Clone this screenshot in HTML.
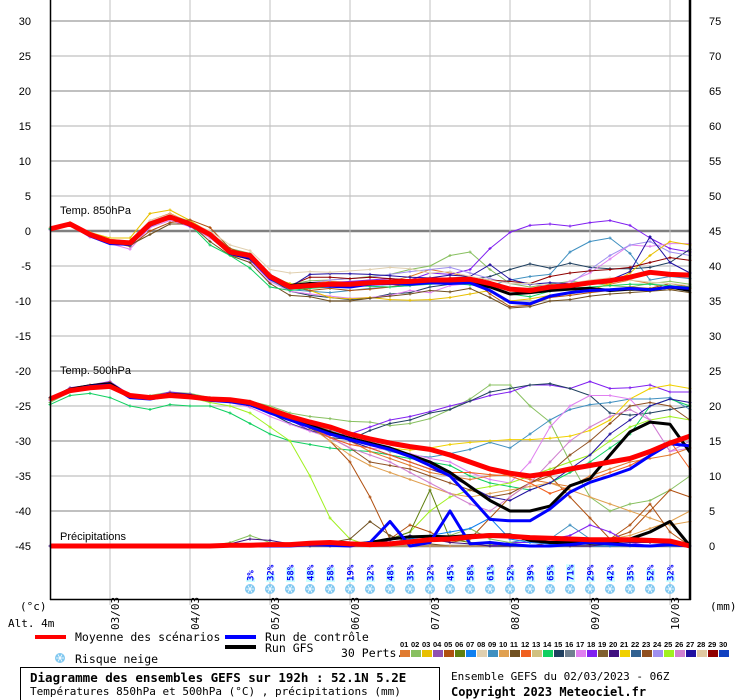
<!DOCTYPE html>
<html><head><meta charset="utf-8"><style>
body{margin:0;background:#fff;width:740px;height:700px;overflow:hidden;font-family:"DejaVu Sans Mono","Liberation Mono",monospace;}
svg{display:block}
</style></head><body>
<svg id="chart" width="740" height="700" viewBox="0 0 740 700" xmlns="http://www.w3.org/2000/svg">
<g id="grid"></g>
<g id="series"></g>
<g id="axes"></g>
<g id="snow"></g>
<g id="legend">
  <line x1="35" y1="637" x2="66" y2="637" stroke="#ff0000" stroke-width="4"/>
  <text x="75" y="641" font-size="11.5">Moyenne des scénarios</text>
  <line x1="225" y1="637" x2="256" y2="637" stroke="#0000ff" stroke-width="4"/>
  <text x="265" y="641" font-size="11.5">Run de contrôle</text>
  <line x1="225" y1="647" x2="256" y2="647" stroke="#000" stroke-width="4"/>
  <text x="265" y="652" font-size="11.5">Run GFS</text>
  <text x="75" y="663" font-size="11.5">Risque neige</text>
  <text x="341" y="657" font-size="11.5">30 Perts.</text>
</g>
<g id="footer">
  <rect x="20.5" y="667.5" width="419" height="33" fill="none" stroke="#000"/>
  <text x="30" y="682" font-size="12.5" font-weight="bold">Diagramme des ensembles GEFS sur 192h : 52.1N 5.2E</text>
  <text x="30" y="695" font-size="11">Températures 850hPa et 500hPa (°C) , précipitations (mm)</text>
  <text x="451" y="680" font-size="11">Ensemble GEFS du 02/03/2023 - 06Z</text>
  <text x="451" y="696" font-size="12" font-weight="bold">Copyright 2023 Meteociel.fr</text>
</g>
</svg>
<script>
const NS="http://www.w3.org/2000/svg";
const dateLabels=["03/03","04/03","05/03","06/03","07/03","08/03","09/03","10/03"];
const leftTicks=[30,25,20,15,10,5,0,-5,-10,-15,-20,-25,-30,-35,-40,-45];
const rightTicks=[75,70,65,60,55,50,45,40,35,30,25,20,15,10,5,0];
const memberColors=["#e07b30","#88c060","#e8c000","#9050b0","#b05010","#608010","#1080f0","#e0d0b0","#4090c0","#e0a050","#705020","#f06020","#d0c080","#10d060","#204060","#708090","#e080f0","#8020f0","#806030","#401080","#f0d000","#306090","#905020","#a090f0","#a0f020","#d080d0","#2010a0","#e0c8a0","#900000","#1040c0"];
const mean850=[0.3,1,-0.5,-1.5,-1.7,1,2,1,-0.5,-3,-3.5,-6.5,-8,-7.8,-7.6,-7.6,-7.4,-7.3,-7.2,-7,-7,-6.9,-7.5,-8.3,-8.5,-8,-7.8,-7.4,-7.1,-6.6,-5.9,-6.2,-6.3];
const ctrl850=[0.3,1,-0.7,-1.8,-1.9,0.8,2,0.8,-0.4,-3.2,-3.8,-6.8,-8,-7.8,-7.9,-8,-7.6,-7.5,-7.6,-7.4,-7.5,-7.4,-8.5,-10.2,-10.4,-9.3,-8.8,-8.5,-8.4,-8.2,-8.4,-8,-8.2];
const gfs850=[0.3,1,-0.5,-1.6,-1.8,0.9,2.1,1,-0.5,-3.2,-3.9,-6.5,-7.8,-7.5,-7.6,-7.6,-7.5,-7.2,-7.3,-7.1,-7.2,-7.3,-8,-9,-8.8,-8.5,-8.3,-8.2,-8.5,-8.3,-8.4,-8,-8.5];
const m850a=[0.3,1.1,-0.3,-1.2,-1.5,1.5,2.5,1.2,-0.3,-3.5,-4,-6.8,-8,-7.5,-7.2,-7.3,-7,-7.2,-6.5,-5.5,-6,-6.6,-7.5,-8.5,-8.8,-8,-7.8,-7.3,-7.6,-7,-7.5,-8.3,-8.2];
const m850b=[0.4,1.2,-0.6,-1.4,-1.7,1.2,2.3,1.4,-0.2,-2.5,-3.2,-6.2,-7.6,-7.1,-7,-6.8,-6.5,-6.2,-5.5,-5,-3.5,-3,-5.5,-7.5,-8,-7.6,-7.2,-7.4,-7.8,-8,-7.5,-7.2,-7.6];
const m850c=[0.2,0.9,-0.8,-1.6,-2,0.8,2,0.8,-0.6,-3,-3.6,-6.5,-8,-7.6,-7.4,-7.2,-7,-6.8,-7,-6,-6.2,-5.5,-2.5,-0.2,0.8,1,0.7,1.2,1.5,0.8,-1,-2.5,-3];
const m850d=[0.3,1,-0.5,-1.5,-2,0.6,1.8,1,-0.8,-3.2,-4,-7,-8.4,-8.6,-8.8,-8.5,-8.2,-8,-7.8,-7.5,-7.6,-7.4,-7.8,-7,-6.5,-6.2,-3,-1.5,-1,-3.2,-7,-6.5,-6.8];
const m850e=[0.3,0.9,-0.6,-1.7,-2,0.7,1.9,0.9,-0.7,-3,-3.7,-6.8,-8.6,-9.2,-9.5,-9.8,-9.6,-9,-8.8,-8,-7.6,-7,-6.5,-5.5,-4.7,-5.3,-4.6,-5.2,-5.4,-5.4,-5.2,-4.5,-2.6];
const m850f=[0.2,0.8,-0.9,-1.8,-2.6,0.5,1.5,0.6,-1,-3.2,-4.2,-7.2,-8.6,-9,-9.3,-9.6,-9.5,-9.2,-8.5,-8.8,-7.8,-7.5,-7.8,-8.2,-8.3,-8.1,-7.2,-6,-4,-2,-2.2,-1.8,-1.8];
const m850g=[0.3,1,-0.4,-1.3,-1.6,1,2.1,1.1,-0.4,-2.9,-3.4,-6.5,-7.8,-7.4,-7,-6.8,-6.6,-6.2,-5.8,-5.5,-5.2,-6,-6.8,-7.5,-7.6,-7.8,-7.5,-5.5,-3.5,-2,-1.5,-3,-3.5];
const m850h=[0.4,1.2,-0.2,-1,-1,2.5,3,1.5,-0.2,-3,-3.8,-6.6,-7.5,-8.5,-9.5,-9.7,-9.5,-9.8,-9.9,-9.8,-9.5,-9,-8.5,-10,-9.7,-9.2,-9,-8.5,-7.5,-6,-3.5,-1.5,-2];
const m850i=[0.3,1,-0.6,-1.6,-2.2,0,1.2,1.6,0.5,-2.5,-3.5,-6.3,-8,-8.5,-8.2,-8.5,-8.3,-8,-7.5,-7.2,-6.8,-6.5,-9,-10.8,-10.6,-9.5,-9.2,-8.8,-8.5,-8,-8.2,-7.5,-8];
const m850j=[0.3,1,-0.5,-1.5,-2,-0.5,1,1,-1.5,-3.5,-4.5,-7.5,-9.2,-9.4,-10,-10,-9.6,-9.3,-9,-8.5,-8.7,-8.2,-9.5,-11,-10.8,-10,-9.8,-9.3,-9,-8.8,-8.6,-8.4,-8.8];
const m850k=[0.3,1,-0.5,-1.5,-1.8,1,2.2,1,-0.5,-3,-3.5,-6.2,-7.8,-6.6,-6.6,-6.8,-6.6,-6.8,-7,-6.8,-6.7,-6.6,-7,-7.2,-7.5,-6.5,-6,-5.7,-5.5,-5.2,-4.5,-3.8,-4.2];
const m850l=[0.3,1,-0.6,-1.7,-2.1,0.8,2,0.7,-0.5,-3,-3.7,-6.3,-8,-6.2,-6.1,-6.1,-6.2,-6.4,-6.6,-6.7,-6.3,-6.5,-4.8,-6.9,-7.6,-7.4,-7.5,-7.3,-7,-5.8,-0.8,-4.5,-6];
const m850m=[0.4,1.1,-0.4,-1.2,-1.5,1.5,2.4,1.2,0,-2,-2.8,-5.5,-6,-5.8,-5.9,-5.7,-5.5,-5.2,-5.4,-6,-5.8,-6.5,-7,-7.5,-7.5,-7.8,-7.5,-7,-6.7,-7,-7.3,-7.5,-7.8];
const m850n=[0.3,0.9,-0.6,-1.6,-2,0.9,2,0.9,-2,-3.5,-5.3,-8,-8.5,-8.2,-8,-7.8,-7.9,-8,-7.8,-7.6,-7.5,-7.7,-8,-9,-9.4,-8.6,-8.2,-8,-7.8,-7.6,-7.6,-7.8,-8];
const members850=[m850a,m850b,m850c,m850d,m850e,m850f,m850g,m850h,m850i,m850j,m850k,m850l,m850m,m850n];
const colors850=[0,1,17,8,14,16,23,2,4,10,28,26,7,13];

const mean500=[-24,-22.8,-22.4,-22.2,-23.5,-23.8,-23.5,-23.7,-24,-24.1,-24.5,-25.5,-26.5,-27.3,-28,-29,-29.7,-30.3,-30.8,-31.2,-32,-33,-34,-34.6,-35,-34.6,-34,-33.5,-33,-32.5,-31.5,-30.3,-29.3];
const ctrl500=[-24,-22.8,-22.2,-22,-23.8,-24,-23.5,-23.7,-24.2,-24.4,-24.8,-26,-27,-28,-29,-29.8,-30.5,-31.2,-32.2,-33.5,-35,-38,-41.2,-41.4,-41.4,-39.7,-37.3,-35.9,-35,-34,-32.1,-30.4,-30.7];
const gfs500=[-24,-22.6,-22.1,-21.8,-23.6,-23.9,-23.3,-23.5,-24,-24.2,-24.6,-25.6,-26.8,-27.8,-28.8,-29.6,-30.3,-31,-32,-33,-34.5,-36.5,-38.5,-40,-40,-39.3,-36.4,-35.4,-32,-28.7,-27.3,-27.6,-31.6];
const m500a=[-24.5,-23,-22.3,-22,-23.8,-23.5,-23,-23.2,-23.8,-24,-24.3,-25,-26,-26.5,-26.8,-27.2,-27.3,-27.8,-27.5,-26.8,-25.5,-24,-22,-22,-25,-27.3,-33,-38,-40,-39,-38.5,-37,-35];
const m500b=[-24,-22.4,-22,-21.5,-23.4,-23.7,-23,-23.3,-24,-24.2,-24.8,-25.8,-27,-28.5,-29.2,-29,-28,-27,-26.5,-25.8,-25,-24.3,-23.5,-23,-22,-22,-22.5,-21.5,-22.5,-22.4,-22,-23,-23];
const m500c=[-23.8,-22.5,-22,-21.8,-23.6,-23.8,-23.2,-23.5,-24.2,-24.5,-25,-26,-27.5,-28.5,-29.5,-29.8,-28.5,-27.5,-27,-26,-25.5,-24.3,-23,-22.5,-22,-21.8,-22.5,-23.5,-26,-26.3,-26,-25.5,-25];
const m500d=[-24,-22.6,-22.1,-21.9,-23.5,-23.9,-23.3,-23.6,-24.1,-24.2,-24.7,-25.6,-26.8,-27.5,-28.5,-29.5,-30.5,-31.5,-32,-32.3,-31.8,-31.2,-30.2,-31,-29,-27,-25.5,-24.8,-24.5,-24,-24,-23.8,-25.5];
const m500e=[-24,-22.5,-22,-21.7,-23.5,-23.7,-23.2,-23.5,-24,-24.3,-24.8,-26,-27,-28,-29,-29.8,-30.5,-31,-31.3,-31,-30.5,-30.2,-30,-29.8,-29.8,-29.6,-29.3,-28.5,-27,-24,-22.5,-22,-22.5];
const m500f=[-24.2,-22.6,-22.2,-22,-23.7,-23.9,-23.4,-23.7,-24.2,-24.5,-25.2,-26.5,-27.6,-28.6,-29.5,-30.5,-31,-31.3,-31.8,-32.5,-33,-34.5,-35.5,-36,-33,-28,-25,-23.5,-23.5,-24,-27,-31.5,-31];
const m500g=[-24.8,-23.5,-23.2,-23.8,-25,-25.5,-24.8,-25,-25,-26,-27.5,-29,-30,-30.5,-31,-31.3,-31.5,-32,-32.5,-33,-33.5,-35,-36,-36.5,-37,-36,-34.5,-33,-31,-29,-25,-24,-25];
const m500h=[-24,-22.5,-22,-21.7,-23.5,-23.8,-23.5,-23.8,-24.5,-25,-26,-28,-30,-35,-41,-44,-45,-44,-43,-40,-38,-37,-36.5,-36,-35,-34,-33,-32,-30,-28,-27,-26.5,-27];
const m500i=[-24,-22.5,-22,-21.7,-23.5,-23.8,-23.2,-23.5,-24,-24.2,-24.5,-25.5,-26.5,-27.8,-30,-33,-38,-44,-42,-43,-44.5,-44,-41,-38,-36,-35,-38,-41,-44,-43,-40,-37,-38];
const m500j=[-24,-22.6,-22,-21.6,-23.6,-23.8,-23.3,-23.6,-24,-24.3,-24.8,-25.7,-26.8,-27.5,-28.5,-30,-31.5,-32.5,-33.5,-34.5,-35,-35.5,-35,-34.8,-35.5,-36,-36.5,-35,-34,-33,-32.5,-32,-31];
const m500k=[-24,-22.5,-22,-21.7,-23.5,-23.8,-23.2,-23.5,-24,-24.2,-24.6,-25.6,-26.7,-28,-30,-32,-33.5,-34.5,-35.5,-36.5,-37.5,-38,-37.5,-37,-36.5,-36,-37,-38,-39,-40,-41,-42,-41.5];
const m500l=[-24,-22.5,-22,-21.7,-23.5,-23.8,-23.2,-23.5,-24,-24.2,-24.6,-25.6,-26.8,-28.2,-29.5,-31,-33,-33.5,-34,-35,-36,-37,-38,-37.5,-36,-34.5,-32,-30,-27.5,-25,-24.5,-25,-27];
const m500m=[-24,-22.5,-22,-21.7,-23.5,-23.8,-23.2,-23.5,-24,-24.2,-24.6,-25.6,-26.6,-27.6,-28.6,-30,-31,-32,-33,-34,-35,-36.5,-38,-38.5,-37,-36,-34,-32,-29,-27,-25,-24,-24.5];
const m500n=[-24,-22.5,-22,-21.7,-23.5,-23.8,-23.2,-23.5,-24,-24.2,-24.6,-25.6,-26.7,-28,-29.5,-31,-32,-33,-34.5,-36,-37.5,-39,-40,-38,-36,-33,-30,-28,-26.5,-25.5,-27,-31.5,-30];
const m500o=[-24,-22.5,-22,-21.7,-23.5,-23.8,-23.2,-23.5,-24,-24.2,-24.6,-25.6,-26.7,-28,-29.5,-30.5,-31,-32,-33,-34,-34.5,-34.5,-34.8,-35,-36,-37.5,-36.5,-35.5,-34.5,-33.5,-32,-30,-34];
const members500=[m500a,m500b,m500c,m500d,m500e,m500f,m500g,m500h,m500i,m500j,m500k,m500l,m500m,m500n,m500o];
const colors500=[1,17,14,8,20,16,13,24,4,0,9,22,26,25,11];

const meanPrecip=[0,0,0,0,0,0,0,0,0,0.1,0.1,0.2,0.2,0.4,0.5,0.3,0.2,0.3,0.6,0.9,1,1.3,1.5,1.4,1.2,1.1,1,0.9,0.9,0.9,0.8,0.7,0];
const ctrlPrecip=[0,0,0,0,0,0,0,0,0,0.1,0,0,0,0.2,0.1,0,0.5,3.5,0,0.5,5,0.3,0.5,0.2,0,0,0.2,0.5,0.3,0.1,0,0.2,0];
const gfsPrecip=[0,0,0,0,0,0,0,0,0,0,0,0,0.1,0.3,0.3,0.2,0.5,1,1.3,1.4,1.3,1.5,1.6,1.6,0.8,0.5,0.5,0.4,0.4,1,2,3.5,0];
const pA=[0,0,0,0,0,0,0,0,0,0,0,0,0,0,0,0,0.5,1,2,8,1,0.5,0.3,0,0,0,0,0,0,0,0,0,0];
const pB=[0,0,0,0,0,0,0,0,0,0,0,0,0,0,0.5,1,3.5,1.5,0.5,0.3,0,0,0,0,0,0,0,0,0,0,0,0,0];
const pC=[0,0,0,0,0,0,0,0,0,0,0,0,0,0,0,0,0,0,0,0,0,0,0,0,0,0.5,0.5,0.5,1,3,6,2,0];
const pD=[0,0,0,0,0,0,0,0,0,0,0,0,0,0,0,0,0,0,0,0,0,0,0,0.5,1,1,3,1,0.5,0,0,0,0];
const pE=[0,0,0,0,0,0,0,0,0,0,0,0,0,0,0,0,0,0,0,0,0,0,0,0.5,0.5,1,1.5,3,2,0.5,0,0,0];
const pF=[0,0,0,0,0,0,0,0,0,0.5,1.5,0.5,0,0,0,0,0,0,0.5,1,1.5,2.5,1,0.5,0,0,0,0,0,0,0,0,0];
const pG=[0,0,0,0,0,0,0,0,0,0,0,0,0,0,0,0,0,0.5,1,1.5,2,2.5,4,1,0.5,0.3,0,0,0,0,0,0,0];
const pH=[0,0,0,0,0,0,0,0,0,0,0,0,0,0,0,0,0,0,0,0,0,0,0,0,0,0,0,0.5,1,1.5,2.5,3.5,5];
const pI=[0,0,0,0,0,0,0,0,0,0.3,1,0.8,0.3,0,0,0,0.3,0.8,1.5,1,0.5,0.3,0,0,0,0,0,0,0.3,0.5,0.5,0.3,0];
const precipMembers=[pA,pB,pC,pD,pE,pF,pG,pH,pI];
const precipColors=[5,10,4,8,17,1,6,9,19];
const snowPct=[3,32,58,48,58,19,32,48,35,32,45,58,61,52,39,65,71,29,42,35,52,32];
const snowStart=10;

const X0=50,DX=20;
function xS(i){return X0+DX*i;}
function yT(t){return 231-7*t;}
function yP(mm){return 546-7*mm;}

function el(tag,attrs,parent){const e=document.createElementNS(NS,tag);for(const k in attrs)e.setAttribute(k,attrs[k]);parent.appendChild(e);return e;}
const grid=document.getElementById('grid'),series=document.getElementById('series'),axes=document.getElementById('axes'),snow=document.getElementById('snow'),legend=document.getElementById('legend');

leftTicks.forEach((t,k)=>{
  const y=yT(t);
  const major=(t%10===0);
  const col=(t===0||t===-45)?'#808080':'#c0c0c0';
  const w=(t===0||t===-45)?2.5:(major?2:1.2);
  const l=el('line',{x1:50,x2:690,y1:y,y2:y,stroke:col,'stroke-width':w},grid);
  
  
  const tl=el('text',{x:31,y:y+4,'font-size':11,'text-anchor':'end','font-family':'Liberation Sans, sans-serif'},axes);
  tl.textContent=t;
  
  
  const tr=el('text',{x:709,y:y+4,'font-size':11,'font-family':'Liberation Sans, sans-serif'},axes);
  tr.textContent=rightTicks[k];
  
  
});
dateLabels.forEach((d,k)=>{
  const x=xS(3+4*k);
  const l=el('line',{x1:x,x2:x,y1:0,y2:605,stroke:'#c0c0c0','stroke-width':1},grid);
  
  
  const t=el('text',{x:0,y:0,'font-size':11,transform:`translate(${x+9},${630}) rotate(-90)`},axes);
  t.textContent=d;
  
  
});

function poly(vals,fy,color,w,name){
  const pts=vals.map((v,i)=>xS(i)+','+fy(v).toFixed(1)).join(' ');
  const p=el('polyline',{points:pts,fill:'none',stroke:color,'stroke-width':w,'stroke-linejoin':'round'},series);
  
  
  if(w<2){vals.forEach((v,i)=>{el('path',{d:`M${xS(i)-1.5},${fy(v)}h3M${xS(i)},${fy(v)-1.5}v3`,stroke:color,'stroke-width':1},series);});}
}
members850.forEach((m,k)=>poly(m,yT,memberColors[colors850[k]],1,'member-850-line'));
members500.forEach((m,k)=>poly(m,yT,memberColors[colors500[k]],1,'member-500-line'));
precipMembers.forEach((m,k)=>poly(m,yP,memberColors[precipColors[k]],1,'member-precip-line'));
poly(gfs850,yT,'#000',3,'gfs-850-line');
poly(gfs500,yT,'#000',3,'gfs-500-line');
poly(gfsPrecip,yP,'#000',3,'gfs-precip-line');
poly(ctrl850,yT,'#0000ff',3,'control-850-line');
poly(ctrl500,yT,'#0000ff',3,'control-500-line');
poly(ctrlPrecip,yP,'#0000ff',3,'control-precip-line');
poly(mean850,yT,'#ff0000',5,'mean-850-line');
poly(mean500,yT,'#ff0000',5,'mean-500-line');
poly(meanPrecip,yP,'#ff0000',5,'mean-precip-line');

[["Temp. 850hPa",214],["Temp. 500hPa",374],["Précipitations",540]].forEach(([s,y])=>{
  const t=el('text',{x:60,y:y,'font-size':11,'font-family':'Liberation Sans, sans-serif'},axes);
  t.textContent=s;
  
  
});
el('line',{x1:50.5,x2:50.5,y1:0,y2:600,stroke:'#000','stroke-width':1.5},axes);
el('line',{x1:690,x2:690,y1:0,y2:600,stroke:'#000','stroke-width':2.5},axes);
el('line',{x1:50,x2:691,y1:599.5,y2:599.5,stroke:'#000','stroke-width':1.5},axes);
[["(°c)",20,610],["Alt. 4m",8,627],["(mm)",710,610]].forEach(([s,x,y])=>{
  const t=el('text',{x:x,y:y,'font-size':11},axes);t.textContent=s;
  
  
});

function flake(cx,cy,parent){
  const g=el('g',{},parent);
  el('circle',{cx:cx,cy:cy,r:5,fill:'#80c8f0'},g);
  for(let a=0;a<3;a++){const an=a*Math.PI/3;el('line',{x1:cx-4*Math.cos(an),y1:cy-4*Math.sin(an),x2:cx+4*Math.cos(an),y2:cy+4*Math.sin(an),stroke:'#fff','stroke-width':0.8},g);}
  return g;
}
snowPct.forEach((p,k)=>{
  const x=xS(snowStart+k);
  const h=Math.max(4,p*0.25);
  const r=el('rect',{x:x-4,y:582-h,width:9,height:h,fill:'#ccffff'},snow);
  
  
  const t=el('text',{x:0,y:0,'font-size':9,fill:'#0000ff','font-weight':'bold',transform:`translate(${x+3.5},${581}) rotate(-90)`},snow);
  t.textContent=p+'%';
  
  
  const f=flake(x,589,snow);
  
  
});
const lf=flake(60,658,legend);


memberColors.forEach((c,k)=>{
  const x=400+11*k;
  const t=el('text',{x:x,y:647,'font-size':7.5,'font-weight':'bold','font-family':'Liberation Sans, sans-serif'},legend);
  t.textContent=String(k+1).padStart(2,'0');
  
  
  const r=el('rect',{x:x,y:650,width:10,height:7,fill:c},legend);
  
  
});
</script>
</body></html>
